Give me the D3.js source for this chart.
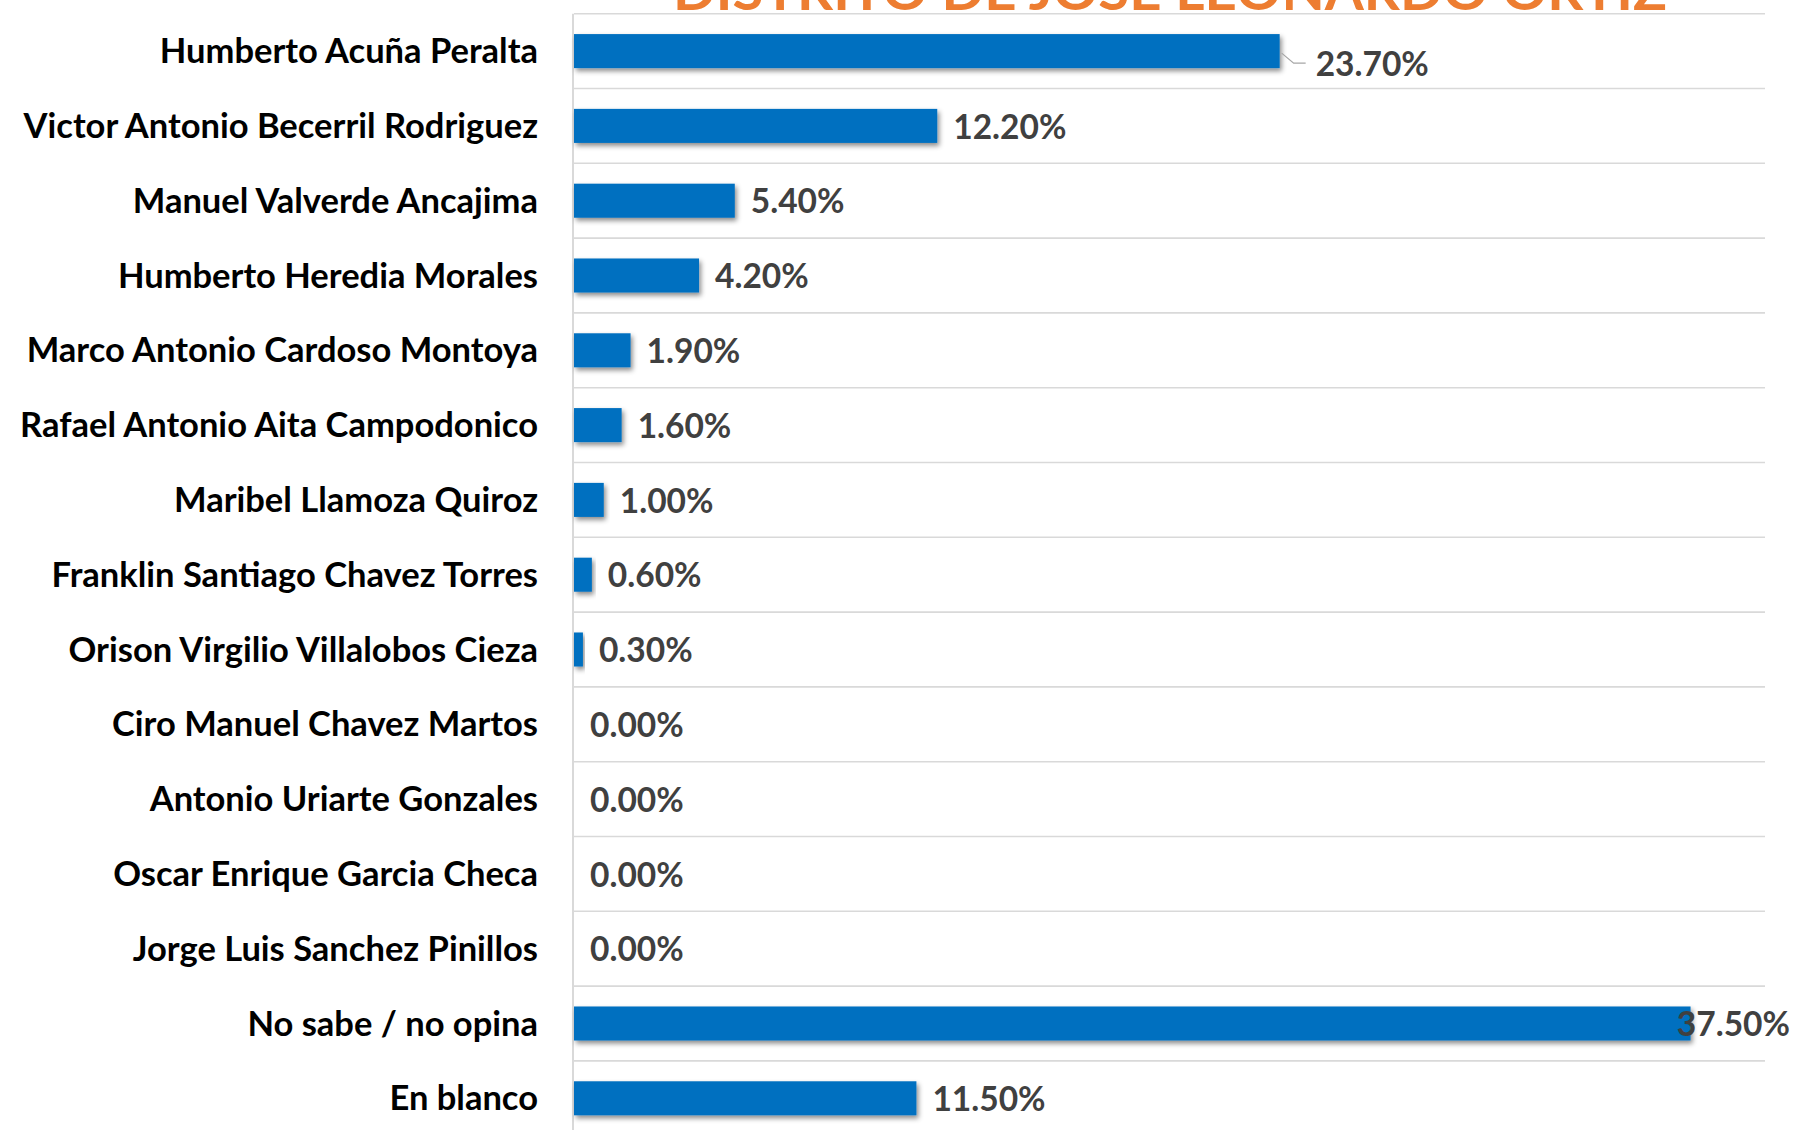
<!DOCTYPE html>
<html>
<head>
<meta charset="utf-8">
<script src="https://cdn.jsdelivr.net/npm/d3@7"></script>
<style>
  html, body { margin: 0; padding: 0; background: #fff; overflow: hidden; }
  svg { display: block; }
</style>
</head>
<body>
<svg id="chart"></svg>
<script>
const title = "DISTRITO DE JOSE LEONARDO ORTIZ";

const candidates = [
  "Humberto Acuña Peralta",
  "Victor Antonio Becerril Rodriguez",
  "Manuel Valverde Ancajima",
  "Humberto Heredia Morales",
  "Marco Antonio Cardoso Montoya",
  "Rafael Antonio Aita Campodonico",
  "Maribel Llamoza Quiroz",
  "Franklin Santiago Chavez Torres",
  "Orison Virgilio Villalobos Cieza",
  "Ciro Manuel Chavez Martos",
  "Antonio Uriarte Gonzales",
  "Oscar Enrique Garcia Checa",
  "Jorge Luis Sanchez Pinillos",
  "No sabe / no opina",
  "En blanco"
];

const percents = [23.7, 12.2, 5.4, 4.2, 1.9, 1.6, 1.0, 0.6, 0.3, 0, 0, 0, 0, 37.5, 11.5];

const width = 1796;
const height = 1130;

const plotLeft = 574;
const plotRight = 1765;
const plotTop = 13.7;
const step = 74.8;

const svg = d3.select("#chart")
    .attr("width", width)
    .attr("height", height)
    .attr("viewBox", [0, 0, width, height]);

const defs = svg.append("defs");
defs.append("filter")
    .attr("id", "shadow")
    .attr("x", "-10%").attr("y", "-30%")
    .attr("width", "130%").attr("height", "180%")
  .append("feDropShadow")
    .attr("dx", 2)
    .attr("dy", 3)
    .attr("stdDeviation", 2.5)
    .attr("flood-color", "#000")
    .attr("flood-opacity", 0.45);

const x = d3.scaleLinear()
    .domain([0, 40])
    .range([plotLeft, plotRight]);

const y = d3.scaleBand()
    .domain(candidates)
    .range([plotTop, plotTop + step * candidates.length])
    .paddingInner(0.545)
    .paddingOuter(0.2725);

// gridlines between categories
svg.append("g")
    .attr("stroke", "#d9d9d9")
    .attr("stroke-width", 1.6)
  .selectAll("line")
  .data(d3.range(candidates.length + 1))
  .join("line")
    .attr("x1", plotLeft)
    .attr("x2", plotRight)
    .attr("y1", i => plotTop + i * step)
    .attr("y2", i => plotTop + i * step);

// vertical axis line
svg.append("line")
    .attr("x1", plotLeft - 1)
    .attr("x2", plotLeft - 1)
    .attr("y1", plotTop)
    .attr("y2", height)
    .attr("stroke", "#d9d9d9")
    .attr("stroke-width", 2);

// title (clipped at top like the original)
svg.append("text")
    .attr("x", 673)
    .attr("y", 10)
    .attr("textLength", 994)
    .attr("lengthAdjust", "spacingAndGlyphs")
    .attr("font-family", "Lato, 'Open Sans', sans-serif")
    .attr("font-weight", 700)
    .attr("font-size", 54)
    .attr("fill", "#ed7d31")
    .text(title);

// bars
svg.append("g")
  .selectAll("rect")
  .data(percents)
  .join("rect")
    .attr("x", x(0))
    .attr("y", (d, i) => y(candidates[i]))
    .attr("width", d => x(d) - x(0))
    .attr("height", y.bandwidth())
    .attr("fill", "#0070c0")
    .attr("filter", d => d > 0 ? "url(#shadow)" : null);

// category labels
svg.append("g")
    .attr("font-family", "Lato, 'Open Sans', sans-serif")
    .attr("font-weight", 700)
    .attr("font-size", 34.5)
    .attr("fill", "#000")
    .attr("text-anchor", "end")
  .selectAll("text")
  .data(candidates)
  .join("text")
    .attr("x", 538)
    .attr("y", d => y(d) + y.bandwidth() / 2)
    .attr("dy", "0.35em")
    .text(d => d);

// value labels
const fmt = d => d3.format(".2f")(d) + "%";
const moved = { 0: { dx: 36, dy: 13 } };  // label dragged off the bar

const labels = svg.append("g")
    .attr("font-family", "Lato, 'Open Sans', sans-serif")
    .attr("font-weight", 700)
    .attr("font-size", 33.5)
    .attr("fill", "#404040")
  .selectAll("text")
  .data(percents)
  .join("text")
    .attr("x", (d, i) => x(d) + (moved[i] ? moved[i].dx : 16))
    .attr("y", (d, i) => y(candidates[i]) + y.bandwidth() / 2 + (moved[i] ? moved[i].dy : 1))
    .attr("dy", "0.35em")
    .text(fmt);

// keep labels inside the chart area
labels.each(function() {
  const t = d3.select(this);
  const w = this.getComputedTextLength();
  if (+t.attr("x") + w > width - 6) t.attr("x", width - 6 - w);
});

// leader line for the moved label
Object.keys(moved).forEach(k => {
  const i = +k;
  const bx = x(percents[i]);
  const cy = y(candidates[i]) + y.bandwidth() / 2;
  svg.append("path")
      .attr("d", `M${bx + 2},${cy + 2}L${bx + 14},${cy + moved[i].dy - 1}H${bx + 26}`)
      .attr("fill", "none")
      .attr("stroke", "#a6a6a6")
      .attr("stroke-width", 1.2);
});
</script>
</body>
</html>
